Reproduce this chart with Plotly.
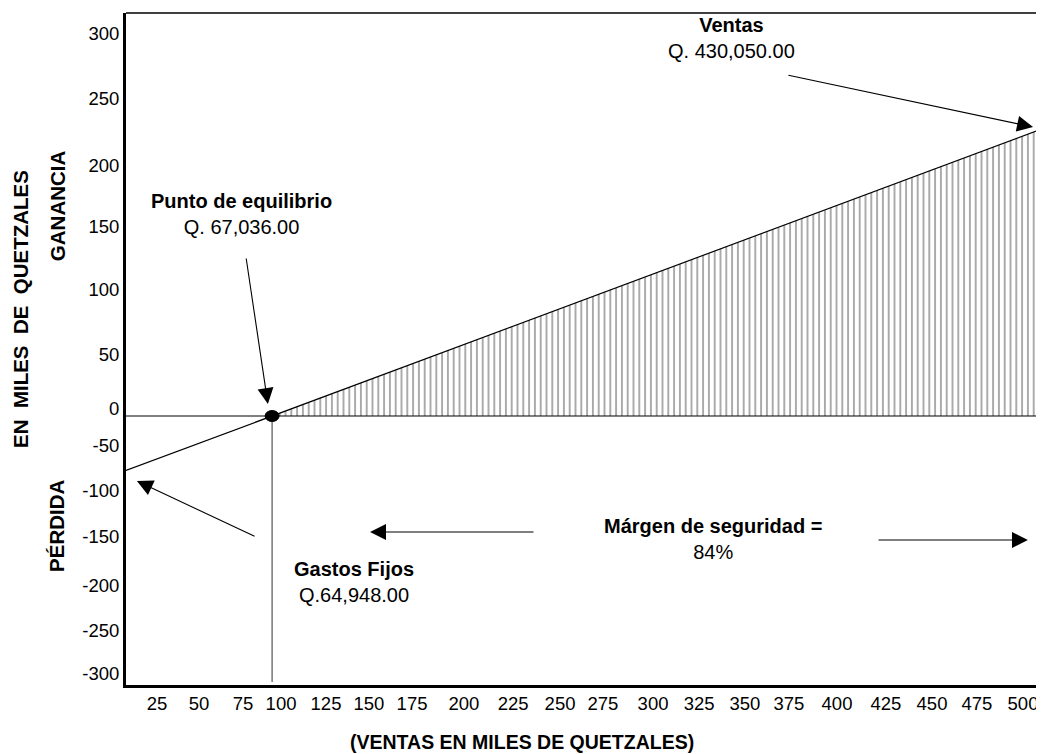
import plotly.graph_objects as go

# ---------------- data (chart units, thousands of quetzales) ----------------
linea_x = [8.0, 88.0, 509.4]        # ventas / resultado line
linea_y = [-43.6, 0.0, 229.6]
zona_x = [88.0, 506.7]              # hatched profit zone
zona_y = [0.0, 228.1]
equilibrio_x = 88.0
equilibrio_y = 0.0
cero_x = [8.0, 506.7]
cero_y = [0.0, 0.0]
ventas_linea_x = [509.4, 509.4]
ventas_linea_y = [287.2, -212.8]
equilibrio_linea_y = [0.0, -212.8]

x_tick_text = ["25", "50", "75", "100", "125", "150", "175", "200", "225", "250",
               "275", "300", "325", "350", "375", "400", "425", "450", "475", "500"]
x_tick_pos = [25.0, 48.0, 72.1, 92.9, 117.5, 141.0, 164.6, 193.0, 219.9, 245.6,
              269.1, 296.5, 321.7, 346.8, 370.9, 397.2, 424.0, 449.2, 473.8, 499.0]
y_tick_text = ["300", "250", "200", "150", "100", "50", "0",
               "-50", "-100", "-150", "-200", "-250", "-300"]
y_tick_pos = [305.6, 253.6, 200.0, 151.2, 100.8, 48.8, 5.6,
              -24.0, -60.0, -96.8, -136.0, -172.0, -206.4]

FONT = "Liberation Sans, Arial, sans-serif"

fig = go.Figure()

# hatched profit zone
fig.add_trace(go.Scatter(
    x=zona_x, y=zona_y, mode="lines", line=dict(width=0, color="#222"),
    fill="tozeroy", fillcolor="rgba(0,0,0,0)",
    fillpattern=dict(shape="|", size=5.8, solidity=0.25, fgcolor="#1a1a1a",
                     bgcolor="rgba(0,0,0,0)"),
    hoverinfo="skip", showlegend=False))

# zero line
fig.add_trace(go.Scatter(x=cero_x, y=cero_y, mode="lines",
                         line=dict(color="black", width=1.2),
                         hoverinfo="skip", showlegend=False))
# break-even vertical
fig.add_trace(go.Scatter(x=[equilibrio_x, equilibrio_x], y=equilibrio_linea_y,
                         mode="lines", line=dict(color="#555", width=1.2),
                         hoverinfo="skip", showlegend=False))
# right vertical (ventas)
fig.add_trace(go.Scatter(x=ventas_linea_x, y=ventas_linea_y, mode="lines",
                         line=dict(color="#888", width=1.5),
                         hoverinfo="skip", showlegend=False))
# result line
fig.add_trace(go.Scatter(x=linea_x, y=linea_y, mode="lines",
                         line=dict(color="black", width=1.2),
                         hoverinfo="skip", showlegend=False))

# break-even dot (ellipse)
fig.add_shape(type="circle", xref="x", yref="y", xsizemode="pixel", ysizemode="pixel",
              xanchor=equilibrio_x, yanchor=equilibrio_y, x0=-7, x1=7, y0=-5.5, y1=5.5,
              fillcolor="black", line=dict(color="black", width=1))
# top border
fig.add_shape(type="line", xref="paper", yref="paper", x0=0, x1=1, y0=1, y1=1,
              line=dict(color="black", width=1.5))

def arrow(tx, ty, sx, sy):
    fig.add_annotation(x=tx, y=ty, ax=sx, ay=sy, xref="x", yref="y", axref="x", ayref="y",
                       text="", showarrow=True, arrowhead=2, arrowsize=2.9,
                       arrowwidth=1.1, arrowcolor="black", standoff=0)

arrow(85.7, 9.6, 73.7, 127.2)       # punto de equilibrio
arrow(504.5, 231.2, 369.8, 272.8)   # ventas
arrow(14.0, -52.0, 79.2, -96.8)     # gastos fijos
arrow(141.6, -92.8, 231.9, -92.8)   # margen izquierda
arrow(501.7, -99.2, 419.1, -99.2)   # margen derecha

def label(x, y, text, size=20):
    fig.add_annotation(x=x, y=y, xref="x", yref="y", text=text, showarrow=False,
                       xanchor="center", yanchor="middle",
                       font=dict(family=FONT, size=size, color="black"), align="center")

label(71.5, 161.6, "<b>Punto de equilibrio</b><br>Q. 67,036.00")
label(339.7, 302.8, "<b>Ventas</b><br>Q. 430,050.00")
label(132.8, -132.8, "<b>Gastos Fijos</b><br>Q.64,948.00")
label(329.3, -98.0, "<b>Márgen de seguridad =</b><br>84%")

def rot(x, y, text):
    fig.add_annotation(x=x, y=y, xref="paper", yref="paper", text=text, textangle=-90,
                       xanchor="center", yanchor="middle",
                       showarrow=False, font=dict(family=FONT, size=20.5, color="black"))

nb = "\u00a0"
rot(-0.1155, 0.5595, f"<b>EN{nb}{nb}MILES{nb}{nb}DE{nb}{nb}QUETZALES</b>")
rot(-0.0752, 0.714, "<b>GANANCIA</b>")
rot(-0.0763, 0.2366, "<b>PÉRDIDA</b>")

fig.add_annotation(x=0.4314, y=-0.0848, xref="paper", yref="paper",
                   xanchor="center", yanchor="middle", borderpad=0,
                   text="<b>(VENTAS EN MILES DE QUETZALES)</b>", showarrow=False,
                   font=dict(family=FONT, size=19.5, color="black"))

# page body has an 8px margin: figure is sized/offset so the plot lands where the reference has it
fig.update_layout(
    width=1036, height=746,
    margin=dict(l=118, r=0, t=5, b=69),
    paper_bgcolor="white", plot_bgcolor="white",
    showlegend=False,
    xaxis=dict(range=[8.03, 510.5], tickvals=x_tick_pos, ticktext=x_tick_text,
               showline=True, linewidth=3, linecolor="black", ticks="",
               showgrid=False, zeroline=False, fixedrange=True,
               tickfont=dict(family=FONT, size=18.5, color="black")),
    yaxis=dict(range=[-215.2, 322.4], tickvals=y_tick_pos, ticktext=y_tick_text,
               showline=True, linewidth=3, linecolor="black", ticks="",
               showgrid=False, zeroline=False, fixedrange=True,
               tickfont=dict(family=FONT, size=18.5, color="black")),
)

fig.write_html("out.html")
